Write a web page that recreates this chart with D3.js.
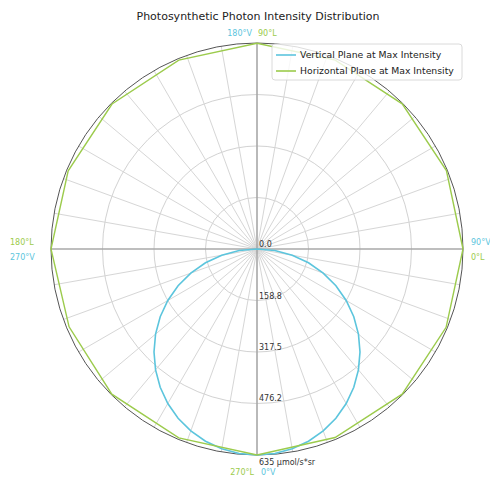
<!DOCTYPE html>
<html><head><meta charset="utf-8">
<script src="https://cdn.jsdelivr.net/npm/d3@7"></script>
<style>body{margin:0;background:#fff}svg{display:block}text{font-family:"DejaVu Sans",sans-serif}</style>
</head><body><svg id="c" width="490" height="486"></svg>
<script>
// Vertical plane (angle in °V, 0°V at bottom)
const vAngles = [-90,-85,-80,-75,-70,-65,-60,-55,-50,-45,-40,-35,-30,-25,-20,-15,-10,-5,0,5,10,15,20,25,30,35,40,45,50,55,60,65,70,75,80,85,90];
const vValues = [0,55.3,110.3,164.4,217.2,268.4,317.5,364.2,408.2,449.0,486.4,520.2,549.9,575.5,596.7,613.4,625.4,632.6,635,632.6,625.4,613.4,596.7,575.5,549.9,520.2,486.4,449.0,408.2,364.2,317.5,268.4,217.2,164.4,110.3,55.3,0];
// Horizontal plane (angle in °L, 0°L at right)
const hAngles = [0,22.5,45,67.5,90,112.5,135,157.5,180,202.5,225,247.5,270,292.5,315,337.5,360];
const hValues = [635,632,633,630,634,630,632,630,635,627,633,630,635,629,633,631,635];
const rTicks = [0, 158.8, 317.5, 476.2, 635];
const rTickLabels = ["0.0","158.8","317.5","476.2","635 µmol/s*sr"];
const seriesNames = ["Vertical Plane at Max Intensity","Horizontal Plane at Max Intensity"];
const title = "Photosynthetic Photon Intensity Distribution";
const rMax = 635;

const blue = "#5cc5dd", green = "#9ccb4c";
const svg = d3.select("#c");
const cx = 257, cy = 249, R = 206;
const r = d3.scaleLinear().domain([0, rMax]).range([0, R]);
const g = svg.append("g").attr("transform", `translate(${cx},${cy})`);

// grid circles
g.selectAll("circle.grid").data(rTicks.slice(1, -1)).join("circle")
  .attr("r", d => r(d)).attr("fill", "none").attr("stroke", "#d2d2d2").attr("stroke-width", 1);
// spokes every 10°
const spokes = d3.range(0, 360, 10).filter(a => a % 90 !== 0);
g.selectAll("line.spoke").data(spokes).join("line")
  .attr("x1", 0).attr("y1", 0)
  .attr("x2", a => R * Math.cos(a * Math.PI / 180))
  .attr("y2", a => -R * Math.sin(a * Math.PI / 180))
  .attr("stroke", "#d6d6d6").attr("stroke-width", 1);
// main axes
[0, 90].forEach(a => {
  const t = a * Math.PI / 180;
  g.append("line").attr("x1", -R * Math.cos(t)).attr("y1", R * Math.sin(t))
    .attr("x2", R * Math.cos(t)).attr("y2", -R * Math.sin(t))
    .attr("stroke", "#a8a8a8").attr("stroke-width", 1.6);
});
// outer spine
g.append("circle").attr("r", r(rMax)).attr("fill", "none").attr("stroke", "#555").attr("stroke-width", 1);

// data lines
const lineV = d3.lineRadial().angle((d, i) => Math.PI - vAngles[i] * Math.PI / 180).radius(d => r(d));
const lineH = d3.lineRadial().angle((d, i) => Math.PI / 2 - hAngles[i] * Math.PI / 180).radius(d => r(d));
g.append("path").datum(vValues).attr("d", lineV).attr("fill", "none").attr("stroke", blue).attr("stroke-width", 1.6);
g.append("path").datum(hValues).attr("d", lineH).attr("fill", "none").attr("stroke", green).attr("stroke-width", 1.4);

// radial labels
g.selectAll("text.rl").data(rTicks).join("text")
  .attr("x", 2).attr("y", (d, i) => i === rTicks.length - 1 ? r(d) + 10 : r(d) - 2)
  .attr("font-size", 8).attr("fill", "#333").text((d, i) => rTickLabels[i]);

// angle labels
const angLabels = [
  {t: "180°V", x: 252, y: 36, a: "end", c: blue},
  {t: "90°L", x: 258, y: 36, a: "start", c: green},
  {t: "180°L", x: 10, y: 245, a: "start", c: green},
  {t: "270°V", x: 10, y: 260, a: "start", c: blue},
  {t: "90°V", x: 471, y: 245, a: "start", c: blue},
  {t: "0°L", x: 471, y: 260, a: "start", c: green},
  {t: "270°L", x: 254, y: 475, a: "end", c: green},
  {t: "0°V", x: 261, y: 475, a: "start", c: blue}
];
svg.selectAll("text.al").data(angLabels).join("text")
  .attr("x", d => d.x).attr("y", d => d.y).attr("text-anchor", d => d.a)
  .attr("font-size", 8).attr("fill", d => d.c).text(d => d.t);

// title
svg.append("text").attr("x", 258).attr("y", 20).attr("text-anchor", "middle")
  .attr("font-size", 11).attr("fill", "#222").text(title);

// legend
const lg = svg.append("g");
lg.append("rect").attr("x", 272).attr("y", 44).attr("width", 190).attr("height", 36).attr("rx", 3)
  .attr("fill", "#fff").attr("fill-opacity", 0.8).attr("stroke", "#d0d0d0").attr("stroke-width", 0.8);
[blue, green].forEach((c, i) => {
  const y = 55 + i * 16;
  lg.append("line").attr("x1", 276).attr("x2", 296).attr("y1", y).attr("y2", y).attr("stroke", c).attr("stroke-width", 1.6);
  lg.append("text").attr("x", 300).attr("y", y + 3.3).attr("font-size", 9.3).attr("fill", "#222").text(seriesNames[i]);
});
</script></body></html>
